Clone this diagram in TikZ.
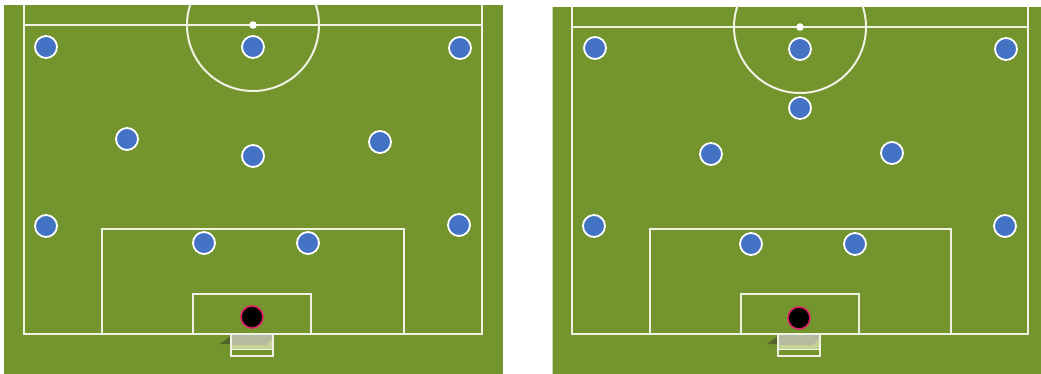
\documentclass[tikz,border=0pt]{standalone}
\usetikzlibrary{calc}
\definecolor{grass}{RGB}{116,148,46}
\definecolor{chalk}{RGB}{240,242,228}
\definecolor{playerblue}{RGB}{68,114,196}
\definecolor{gkring}{RGB}{222,32,104}
\definecolor{netgrey}{RGB}{182,186,160}
\definecolor{netgreen}{RGB}{196,212,150}
\definecolor{goalshadow}{RGB}{82,100,44}
\tikzset{
  pline/.style={draw=chalk,line width=2pt},
  player/.style={circle,fill=playerblue,draw=white,line width=1.8pt,minimum size=22pt,inner sep=0pt},
  keeper/.style={circle,fill=black,draw=gkring,line width=1.6pt,minimum size=22pt,inner sep=0pt},
}
\begin{document}
\begin{tikzpicture}[x=1pt,y=-1pt]
\useasboundingbox (0,0) rectangle (1041,374);
\fill[white] (0,0) rectangle (1041,374);

\fill[grass] (4,5) rectangle (503,374);
\fill[grass] (552,7) rectangle (1041,374);
\draw[chalk!70!grass,line width=0.8pt] (552.4,7) -- (552.4,374);

\foreach \top/\half/\cx/\L/\R/\pl/\pr/\gl/\gr/\nl/\nr in
  {5/25/253/24/482/102/404/193/311/231/273,
   7/27/800/572/1028/650/951/741/859/778/820}{
  % goal (behind goal line)
  \fill[netgrey] (\nl,335) rectangle (\nr,345);
  \fill[netgreen] (\nl,345) rectangle (\nr,349.5);
  \fill[netgreen] (\nr-7,345) -- (\nr,338) -- (\nr,345) -- cycle;
  \fill[goalshadow] (\nl-11,344) -- (\nl,336) -- (\nl,344) -- cycle;
  \draw[pline,line width=1.4pt] (\nl,349.5) -- (\nr,349.5);
  \draw[pline,line width=1.7pt] (\nl,334) -- (\nl,356) -- (\nr,356) -- (\nr,334);
  % touch lines, halfway line, goal line
  \draw[pline] (\L,\top) -- (\L,334) -- (\R,334) -- (\R,\top);
  \draw[pline] (\L,\half) -- (\R,\half);
  % centre circle
  \begin{scope}
    \clip (\L-5,\top) rectangle (\R+5,374);
    \draw[pline] (\cx,\half) circle[radius=66];
  \end{scope}
  \fill[white] (\cx,\half) circle[radius=3.8];
  % penalty area and goal area
  \draw[pline] (\pl,334) -- (\pl,229) -- (\pr,229) -- (\pr,334);
  \draw[pline] (\gl,334) -- (\gl,294) -- (\gr,294) -- (\gr,334);
}

% ---------- left formation ----------
\node[player] (a1) at (46,47) {};
\node[player] (a2) at (253,47) {};
\node[player] (a3) at (460,48) {};
\node[player] (a4) at (127,139) {};
\node[player] (a5) at (253,156) {};
\node[player] (a6) at (380,142) {};
\node[player] (a7) at (46,226) {};
\node[player] (a8) at (459,225) {};
\node[player] (a9) at (204,243) {};
\node[player] (a10) at (308,243) {};
\node[keeper] (agk) at (252,317) {};

% ---------- right formation ----------
\node[player] (b1) at (595,48) {};
\node[player] (b2) at (800,49) {};
\node[player] (b3) at (1006,49) {};
\node[player] (b4) at (800,108) {};
\node[player] (b5) at (711,154) {};
\node[player] (b6) at (892,153) {};
\node[player] (b7) at (594,226) {};
\node[player] (b8) at (1005,226) {};
\node[player] (b9) at (751,244) {};
\node[player] (b10) at (855,244) {};
\node[keeper] (bgk) at (799,318) {};
\end{tikzpicture}
\end{document}
